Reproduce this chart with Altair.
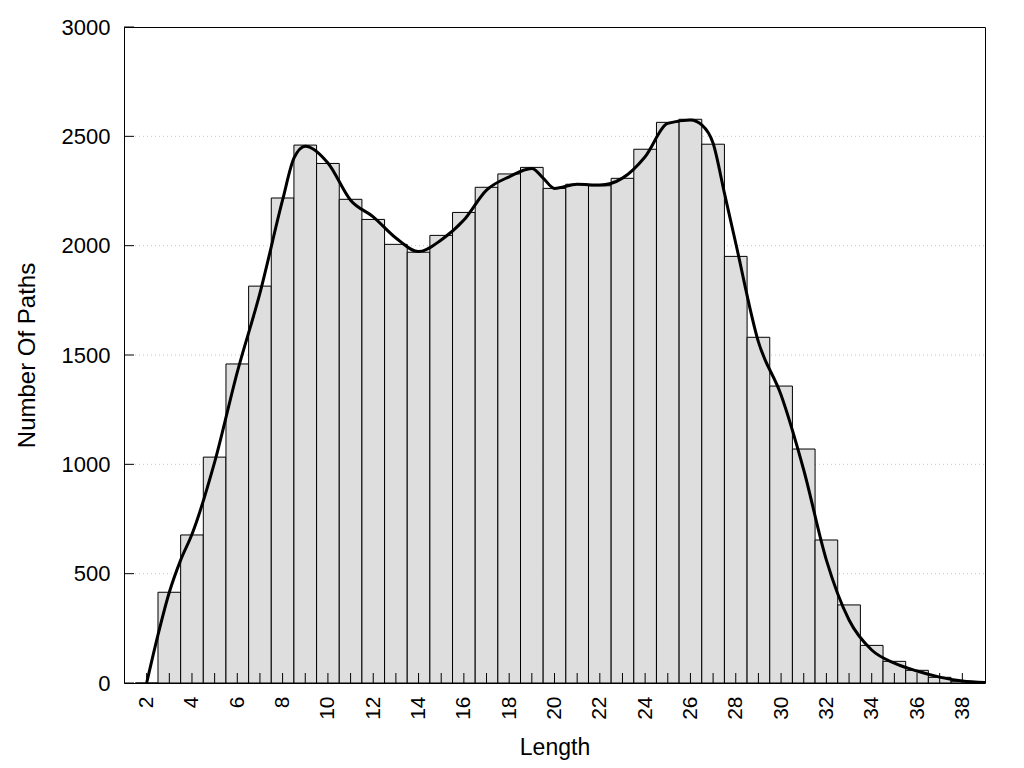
import altair as alt
import pandas as pd

# Histogram bars (path length -> count)
lengths = list(range(2, 39))
counts = [0, 415, 677, 1033, 1459, 1815, 2218, 2460, 2376, 2212, 2120, 2006, 1970,
          2047, 2152, 2267, 2328, 2358, 2262, 2281, 2274, 2308, 2441, 2564, 2578,
          2464, 1951, 1581, 1358, 1070, 654, 357, 172, 99, 58, 26, 6]

# Smoothed density curve
curve_x = [2, 2.5, 3, 3.5, 4, 5, 6, 7, 8, 8.5, 9, 10, 11, 12, 13, 14, 15, 16, 17, 18,
           19, 19.5, 20, 21, 22, 23, 24, 25, 26, 26.5, 27, 27.5, 28, 29, 30, 31, 32,
           33, 34, 35, 36, 37, 38, 39]
curve_y = [0, 220, 415, 562, 680, 1010, 1422, 1783, 2209, 2400, 2455, 2378, 2208, 2132,
           2035, 1973, 2026, 2117, 2254, 2315, 2353, 2309, 2262, 2281, 2277, 2309, 2407,
           2559, 2575, 2552, 2468, 2240, 2011, 1560, 1317, 974, 562, 288, 151, 91, 55,
           27, 9, 2]

y_ticks = [0, 500, 1000, 1500, 2000, 2500, 3000]
grid_vals = [500, 1000, 1500, 2000, 2500]
x_labels = list(range(2, 39, 2))
x_minor = list(range(2, 39))

W, H = 861, 656

bars_df = pd.DataFrame({"start": [l - 0.5 for l in lengths],
                        "end": [l + 0.5 for l in lengths],
                        "count": counts,
                        "base": [0] * len(lengths)})
curve_df = pd.DataFrame({"x": curve_x, "y": curve_y})

xs = alt.Scale(domain=[1, 39], nice=False, zero=False)
ys = alt.Scale(domain=[0, 3000], nice=False)

FONT = "Liberation Sans"

x_axis = alt.Axis(values=x_labels, labelAngle=270, ticks=False, domain=False,
                  grid=False, labelPadding=13, labelFontSize=21, titleFontSize=23,
                  titlePadding=17, labelFont=FONT, titleFont=FONT, format="d",
                  titleFontWeight="normal", labelColor="black", titleColor="black")
y_axis = alt.Axis(values=y_ticks, ticks=False, domain=False, grid=False,
                  labelPadding=14, labelFontSize=22, titleFontSize=24,
                  titlePadding=22, labelFont=FONT, titleFont=FONT,
                  format="d",
                  titleFontWeight="normal", labelColor="black", titleColor="black")

grid = alt.Chart(pd.DataFrame({"v": grid_vals})).mark_rule(
    color="#c8c8c8", strokeDash=[1, 3], strokeWidth=1
).encode(x=alt.value(11), x2=alt.value(W),
         y=alt.Y("v:Q", scale=ys, axis=y_axis, title="Number Of Paths"))

bars = alt.Chart(bars_df).mark_bar(
    fill="#dedede", stroke="black", strokeWidth=1, opacity=1
).encode(
    x=alt.X("start:Q", scale=xs, title="Length", axis=x_axis),
    x2="end:Q",
    y=alt.Y("count:Q", scale=ys, title="Number Of Paths", axis=y_axis),
    y2="base:Q",
)

line = alt.Chart(curve_df).mark_line(
    color="black", strokeWidth=3, interpolate="monotone"
).encode(x=alt.X("x:Q", scale=xs, title="Length", axis=x_axis),
         y=alt.Y("y:Q", scale=ys, title="Number Of Paths", axis=y_axis))

yt = alt.Chart(pd.DataFrame({"v": y_ticks})).mark_rule(color="black", strokeWidth=1).encode(
    x=alt.value(0), x2=alt.value(10),
    y=alt.Y("v:Q", scale=ys, axis=y_axis, title="Number Of Paths"))

xt = alt.Chart(pd.DataFrame({"v": x_minor})).mark_rule(color="black", strokeWidth=1).encode(
    x=alt.X("v:Q", scale=xs, title="Length", axis=x_axis),
    y=alt.value(H), y2=alt.value(H - 10))

chart = alt.layer(grid, bars, line, yt, xt).properties(
    width=W, height=H,
    autosize=alt.AutoSizeParams(type="none"),
    padding={"left": 116, "top": 19, "right": 31, "bottom": 84},
    background="white",
).configure_view(stroke="black", strokeWidth=1)

chart.save("out.html", embed_options={"renderer": "svg", "actions": False})
